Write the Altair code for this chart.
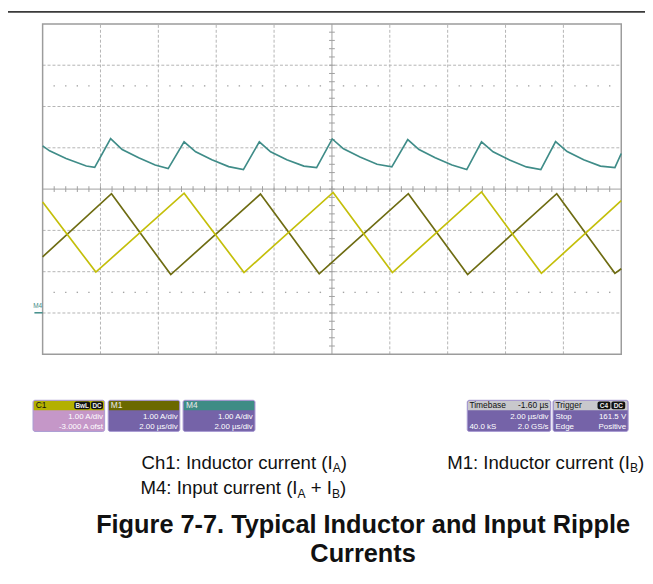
import altair as alt
import pandas as pd

# ---------------- scope traces ----------------
# time in µs (2 µs/div, 10 div across), current in A relative to screen centre (1 A/div)
c1_t = [0.00, 1.84, 4.89, 6.96, 10.04, 12.09, 15.17, 17.24, 20.00]
c1_i = [-0.31, -2.01, -0.10, -2.02, -0.08, -2.02, -0.07, -2.04, -0.28]

m1_t = [0.00, 2.38, 4.43, 7.53, 9.56, 12.64, 14.69, 17.77, 19.78, 20.00]
m1_i = [-1.64, -0.11, -2.07, -0.12, -2.05, -0.11, -2.07, -0.11, -2.04, -1.93]

m4_t = [0.00, 0.24, 0.81, 1.51, 1.80, 2.35, 2.75, 3.32, 3.89, 4.34,
        4.89, 5.29, 5.85, 6.43, 6.94, 7.49, 7.88, 8.44, 9.03, 9.47,
        10.01, 10.40, 10.97, 11.56, 12.07, 12.62, 13.01, 13.57, 14.15, 14.66,
        15.17, 15.57, 16.14, 16.72, 17.22, 17.73, 18.13, 18.70, 19.28, 19.78, 20.00]
m4_i = [1.047, 0.927, 0.743, 0.560, 0.527, 1.222, 0.958, 0.759, 0.584, 0.496,
        1.143, 0.903, 0.711, 0.544, 0.472, 1.143, 0.903, 0.711, 0.556, 0.520,
        1.214, 0.975, 0.776, 0.601, 0.537, 1.198, 0.958, 0.759, 0.584, 0.472,
        1.143, 0.903, 0.704, 0.537, 0.472, 1.150, 0.910, 0.711, 0.556, 0.520, 0.862]

# screen divisions
div_t = [0, 2, 4, 6, 8, 10, 12, 14, 16, 18, 20]
div_i = [-4, -3, -2, -1, 0, 1, 2, 3, 4]

# info boxes text
c1_box = ["C1", "1.00 A/div", "-3.000 A ofst"]
m1_box = ["M1", "1.00 A/div", "2.00 µs/div"]
m4_box = ["M4", "1.00 A/div", "2.00 µs/div"]
tb_box = ["Timebase", "-1.60 µs", "2.00 µs/div", "40.0 kS", "2.0 GS/s"]
tr_box = ["Trigger", "Stop", "161.5 V", "Edge", "Positive"]

# ---------------- layout ----------------
W, H = 644, 560
FONT = "Liberation Sans, Arial, sans-serif"
xs = alt.Scale(domain=[-1.19658, 20.82051], nice=False, zero=False)
ys = alt.Scale(domain=[-9.10180, 4.31138], nice=False, zero=False)

C_TEAL = "#3f8c88"
C_YEL = "#c4bf0a"
C_OLIVE = "#6e6c12"
GRID = "#b4b4b4"


def seg_layer(rows, **kw):
    df = pd.DataFrame(rows, columns=["x", "x2", "y", "y2"])
    return alt.Chart(df).mark_rule(**kw).encode(
        x=alt.X("x:Q", scale=xs, axis=None), x2="x2:Q",
        y=alt.Y("y:Q", scale=ys, axis=None), y2="y2:Q")


# dashed grid
grid_rows = []
for t in div_t[1:-1]:
    if t != 10:
        grid_rows.append((t, t, -4, 4))
for i in div_i[1:-1]:
    if i != 0:
        grid_rows.append((0, 20, i, i))
grid = seg_layer(grid_rows, color=GRID, strokeWidth=1, strokeDash=[3, 2])

# centre crosshair with minor ticks
cross_rows = [(10, 10, -4, 4), (0, 20, 0, 0)]
for k in range(1, 40):
    a = -4 + k * 0.2
    cross_rows.append((9.9, 10.1, a, a))
for k in range(1, 50):
    t = k * 0.4
    cross_rows.append((t, t, -0.07, 0.07))
cross = seg_layer(cross_rows, color="#a0a0a0", strokeWidth=1)

# sparse dotted rows at +/-2.5 div
dot_rows = []
for k in range(1, 50):
    t = k * 0.4
    if k % 5 != 0:
        dot_rows.append((t, 2.5))
        dot_rows.append((t, -2.5))
dots = alt.Chart(pd.DataFrame(dot_rows, columns=["t", "i"])).mark_square(
    size=2, color="#9a9a9a", opacity=0.9).encode(
    x=alt.X("t:Q", scale=xs, axis=None), y=alt.Y("i:Q", scale=ys, axis=None))

# plot border
border = alt.Chart(pd.DataFrame([{"x": 0, "x2": 20, "y": -4, "y2": 4}])).mark_rect(
    fillOpacity=0, stroke="#9c9c9c", strokeWidth=1.5).encode(
    x=alt.X("x:Q", scale=xs, axis=None), x2="x2:Q",
    y=alt.Y("y:Q", scale=ys, axis=None), y2="y2:Q")


def trace(ts, vs, color):
    df = pd.DataFrame({"t": ts, "i": vs, "k": range(len(ts))})
    return alt.Chart(df).mark_line(color=color, strokeWidth=1.7, strokeJoin="miter").encode(
        x=alt.X("t:Q", scale=xs, axis=None), y=alt.Y("i:Q", scale=ys, axis=None),
        order="k:Q")


tr_m4 = trace(m4_t, m4_i, C_TEAL)
tr_m1 = trace(m1_t, m1_i, C_OLIVE)
tr_c1 = trace(c1_t, c1_i, C_YEL)


# ---------------- pixel-positioned decorations ----------------
def rect_layer(rows, **kw):
    df = pd.DataFrame(rows, columns=["x", "x2", "y", "y2", "fill"])
    return alt.Chart(df).mark_rect(**kw).encode(
        x=alt.X("x:Q", scale=None), x2="x2:Q",
        y=alt.Y("y:Q", scale=None), y2="y2:Q",
        fill=alt.Fill("fill:N", scale=None))


def text_layer(rows, **kw):
    df = pd.DataFrame(rows, columns=["x", "y", "txt"])
    base = dict(font=FONT, baseline="alphabetic")
    base.update(kw)
    return alt.Chart(df).mark_text(**base).encode(
        x=alt.X("x:Q", scale=None), y=alt.Y("y:Q", scale=None), text="txt:N")


BT, BB, HB = 393.5, 425.0, 403.7
PURPLE = "#7563a8"
boxes = [(25.3, 97.7, "#c597c8", "#b3b000"),
         (101.3, 173.7, PURPLE, "#6b6900"),
         (177.0, 249.7, PURPLE, "#3e8c85"),
         (464.3, 548.7, PURPLE, "#c8c8cc"),
         (551.0, 627.0, PURPLE, "#c8c8cc")]
bodies = rect_layer([(a, b, BT, BB, f) for a, b, f, h in boxes], cornerRadius=2)
heads = rect_layer([(a + 0.5, b - 0.5, BT + 0.5, HB, h) for a, b, f, h in boxes],
                   cornerRadiusTopLeft=2, cornerRadiusTopRight=2)
outlines = rect_layer([(a, b, BT, BB, "none") for a, b, f, h in boxes],
                      cornerRadius=2, stroke="#a99bd3", strokeWidth=1, fillOpacity=0)
badges = rect_layer([(67, 83, 394.8, 402.6, "#111111"), (84, 96, 394.8, 402.6, "#111111"),
                     (596, 609, 394.8, 402.6, "#111111"), (610, 624, 394.8, 402.6, "#111111")],
                    cornerRadius=2)
badge_txt = text_layer([(75, 401.2, "BwL"), (90, 401.2, "DC"), (602.5, 401.2, "C4"),
                        (617, 401.2, "DC")], fontSize=6.5, color="#f0f0f0", align="center",
                       fontWeight="bold")

hdr_dark = text_layer([(28, 401.8, c1_box[0]), (466.5, 401.8, tb_box[0]),
                       (553.5, 401.8, tr_box[0])], fontSize=8.5, color="#111111", align="left")
hdr_dark_r = text_layer([(546.5, 401.8, tb_box[1])], fontSize=8.5, color="#111111", align="right")
hdr_light = text_layer([(104, 401.8, m1_box[0]), (180, 401.8, m4_box[0])],
                       fontSize=8.5, color="#e8e8e8", align="left")
body_r = text_layer([(96, 412.8, c1_box[1]), (96, 422.6, c1_box[2]),
                     (171.5, 412.8, m1_box[1]), (171.5, 422.6, m1_box[2]),
                     (247.5, 412.8, m4_box[1]), (247.5, 422.6, m4_box[2]),
                     (546.5, 412.8, tb_box[2]), (546.5, 422.6, tb_box[4]),
                     (625, 412.8, tr_box[2]), (625, 422.6, tr_box[4])],
                    fontSize=8, color="#ffffff", align="right")
body_l = text_layer([(466.5, 422.6, tb_box[3]), (553.5, 412.8, tr_box[1]),
                     (553.5, 422.6, tr_box[3])], fontSize=8, color="#ffffff", align="left")

# M4 reference marker at left of the graticule
m4_mark_txt = text_layer([(25.5, 300.5, "M4")], fontSize=6.5, color=C_TEAL, align="left")
m4_mark_bar = rect_layer([(26.7, 35.0, 304.3, 305.8, C_TEAL)])

# top frame line
frame = rect_layer([(0, W, 0, 1.6, "#3a3a3a")])

# captions (main text + subscripts)
CAP = 18.8
SUB = 12.2
cap_main = text_layer([(135, 462.5, "Ch1: Inductor current (I"), (336.4, 462.5, ")"),
                       (444, 462.5, "M1: Inductor current (I"), (637.0, 462.5, ")"),
                       (134, 488.5, "M4: Input current (I"), (306.1, 488.5, "+ I"),
                       (335.6, 488.5, ")")],
                      fontSize=CAP, color="#111111", align="left")
cap_sub = text_layer([(328.3, 466.5, "A"), (628.9, 466.5, "B"), (292.8, 492.5, "A"),
                      (327.5, 492.5, "B")], fontSize=SUB, color="#111111", align="left")
title = text_layer([(359, 528, "Figure 7-7. Typical Inductor and Input Ripple"),
                    (359, 557, "Currents")], fontSize=25.6, fontWeight="bold",
                   color="#111111", align="center")

chart = alt.layer(
    grid, dots, cross, border, tr_m4, tr_m1, tr_c1,
    bodies, heads, outlines, badges, badge_txt,
    hdr_dark, hdr_dark_r, hdr_light, body_r, body_l,
    m4_mark_txt, m4_mark_bar, frame, cap_main, cap_sub, title
).properties(width=W, height=H, padding=0, background="white").configure_view(strokeWidth=0)

chart.save("out.html", embed_options={"renderer": "svg", "actions": False})
